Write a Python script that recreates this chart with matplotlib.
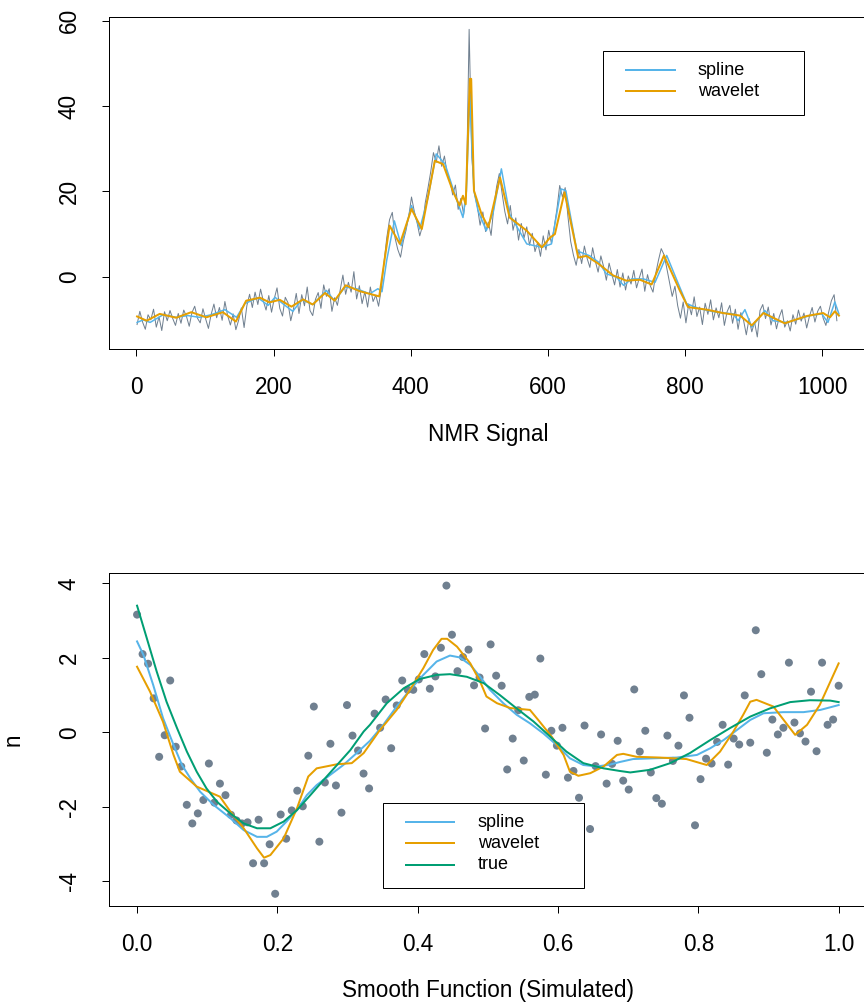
import matplotlib
matplotlib.use("Agg")
import matplotlib.pyplot as plt
import numpy as np
from matplotlib.lines import Line2D
from matplotlib.patches import Rectangle

plt.rcParams['font.family'] = ['Liberation Sans', 'DejaVu Sans']
plt.rcParams['axes.unicode_minus'] = False

GREY = '#708090'
BLUE = '#56B4E9'
ORANGE = '#E69F00'
GREEN = '#009E73'

# ---- NMR signal (read every 4th sample) ----
nmr_x = np.arange(1, 1025, 4)
nmr_raw = [
    -11.2, -8.1, -10.6, -12.3, -8.9, -10.1, -7.6, -11.8, -9.4, -12.6, -8.2, -10.3, -7.9, -9.8, -11.4, -8.6,
    -10.9, -7.8, -9.3, -11.6, -8.4, -6.9, -9.7, -10.8, -7.5, -9.9, -12.1, -8.8, -6.4, -9.6, -7.2, -10.2,
    -5.8, -9.1, -11.3, -8.7, -12.4, -10.2, -7.3, -11.9, -6.8, -4.1, -7.2, -3.6, -6.5, -2.9, -5.7, -7.8,
    -4.4, -8.3, -5.1, -2.6, -7.4, -9.2, -4.8, -6.1, -10.3, -7.5, -3.9, -8.6, -4.2, -6.8, -2.4, -7.9,
    -9.1, -5.3, -3.7, -7.4, -1.9, -4.6, -2.8, -8.1, -4.9, -6.7, -3.2, 0.4, -4.1, -1.3, -3.6, 1.2,
    -5.2, -2.1, -6.3, -3.5, -7.1, -2.4, -5.8, -4.3, -6.9, -2.8, 3.5, 9.2, 13.4, 15.1, 9.1, 6.4,
    4.6, 8.3, 10.9, 14.2, 18.7, 15.4, 12.8, 9.6, 11.9, 17.3, 20.8, 24.6, 29.1, 26.8, 30.7, 25.9,
    28.3, 24.1, 22.7, 19.2, 21.5, 15.8, 18.4, 14.6, 19.7, 58.0, 27.9, 19.3, 16.4, 12.1, 15.2, 10.6,
    12.8, 9.7, 16.3, 21.1, 24.2, 19.6, 15.3, 12.4, 16.7, 10.9, 13.8, 8.6, 12.5, 9.1, 11.7, 7.4,
    10.2, 5.9, 8.1, 4.8, 9.6, 6.3, 10.9, 7.8, 11.6, 15.9, 21.4, 18.7, 20.9, 14.2, 8.3, 5.1,
    2.7, 6.4, 3.1, 7.2, 4.3, 2.2, 6.8, 3.6, 1.1, 4.9, 2.4, -0.8, 3.2, 0.6, -1.9, 1.7,
    -2.4, 0.9, -3.1, 0.2, -1.7, 1.5, -2.6, -0.3, 1.8, -3.4, 0.5, -2.1, -3.6, 0.8, 3.9, 6.6,
    5.2, 2.1, -1.3, -4.6, -2.2, -6.8, -9.7, -5.9, -10.8, -6.4, -8.9, -4.7, -9.3, -7.1, -11.2, -6.2,
    -8.8, -5.4, -10.1, -7.3, -9.6, -6.1, -11.4, -8.2, -6.7, -10.9, -7.6, -12.3, -8.4, -10.2, -13.6, -9.8,
    -12.9, -10.6, -14.1, -7.9, -6.5, -9.8, -7.1, -11.3, -8.6, -12.2, -9.4, -7.7, -11.8, -10.3, -12.7, -8.9,
    -11.1, -7.8, -10.4, -8.5, -12.0, -9.3, -7.2, -10.6, -8.1, -6.9, -9.7, -11.4, -8.3, -5.6, -4.2, -10.3,
]

spline_x = [1, 10, 20, 39, 58, 75, 92, 109, 129, 146, 158, 177, 192, 202, 215, 228, 241, 257,
            277, 289, 304, 321, 340, 352, 358, 365, 376, 386, 401, 413, 425, 437, 450, 464,
            476, 481, 486, 489, 492, 498, 510, 520, 532, 544, 569, 591, 605, 619, 626, 642,
            661, 674, 685, 700, 710, 722, 739, 756, 773, 786, 802, 821, 845, 870, 877, 887,
            897, 916, 928, 948, 982, 999, 1008, 1018, 1024]
spline_y = [-10.7, -10.1, -10.7, -8.9, -9.5, -9.1, -9.5, -8.9, -7.7, -9.5, -6.3, -4.9, -6.7, -4.8,
            -6.5, -8.1, -5.4, -6.5, -3.2, -5.7, -2.4, -2.8, -4.0, -2.8, -3.5, 4.0, 13.1, 7.3,
            16.7, 11.2, 18.5, 28.8, 26.4, 19.4, 13.9, 20.0, 42.9, 30.0, 20.2, 15.5, 10.8, 15.0,
            25.3, 14.7, 7.7, 6.9, 7.7, 20.6, 20.2, 6.1, 4.9, 3.4, 0.7, -0.1, -2.0, -0.5, -0.5,
            -1.3, 5.0, -0.1, -6.3, -7.5, -8.3, -8.7, -10.3, -7.7, -11.8, -7.9, -10.3, -10.7,
            -9.1, -8.7, -10.7, -5.9, -8.7]

wave_x = [1, 15, 34, 58, 80, 102, 126, 145, 160, 180, 194, 209, 226, 243, 257, 275, 289, 305,
          326, 340, 354, 369, 384, 401, 416, 435, 447, 462, 471, 476, 480, 486, 488, 492, 503,
          513, 530, 544, 569, 591, 603, 610, 624, 644, 656, 674, 695, 714, 734, 751, 769, 792,
          804, 831, 855, 880, 897, 914, 945, 977, 1001, 1011, 1018, 1024]
wave_y = [-9.3, -10.3, -8.7, -9.6, -8.3, -9.5, -8.3, -10.5, -5.6, -4.9, -6.0, -5.4, -7.0, -5.3,
          -6.5, -3.8, -5.6, -2.0, -3.4, -4.0, -4.6, 12.0, 7.7, 15.9, 11.2, 27.2, 26.4, 19.8,
          16.7, 19.0, 17.0, 46.4, 46.4, 20.2, 14.7, 11.6, 23.3, 13.9, 10.8, 6.9, 9.2, 10.0,
          19.8, 4.5, 4.9, 3.0, 0.3, -0.9, -0.7, -1.8, 5.0, -3.2, -7.1, -7.7, -8.5, -9.1, -11.4,
          -8.5, -10.9, -9.2, -8.5, -9.5, -8.1, -9.1]

# ---- simulated smooth function (n = 128) ----
sim_x = np.arange(128) / 127
sim_y = [
    3.16, 2.10, 1.84, 0.91, -0.66, -0.08, 1.39, -0.39, -0.92, -1.95, -2.45, -2.18, -1.82, -0.84, -1.89, -1.38,
    -1.69, -2.22, -2.37, -2.45, -2.42, -3.52, -2.35, -3.52, -3.01, -4.34, -2.21, -2.86, -2.10, -1.57, -1.99, -0.63,
    0.69, -2.94, -1.35, -0.31, -1.43, -2.16, 0.73, -0.09, -0.49, -1.11, -1.51, 0.50, 0.12, 0.88, -0.43, 0.72,
    1.39, 1.14, 1.14, 1.42, 2.10, 1.17, 1.50, 2.27, 3.94, 2.62, 1.64, 2.02, 2.22, 1.26, 1.47, 0.10,
    2.36, 1.52, 1.25, -1.00, -0.17, 0.59, -0.76, 0.95, 1.01, 1.98, -1.14, 0.04, -0.36, 0.12, -1.22, -1.04,
    -1.76, 0.18, -2.60, -0.91, -0.06, -1.38, -0.85, -0.23, -1.30, -1.54, 1.15, -0.52, 0.04, -1.08, -1.77, -1.92,
    -0.09, -0.77, -0.36, 0.99, 0.39, -2.50, -1.26, -0.71, -0.84, -0.26, 0.20, -0.87, -0.17, -0.33, 0.99, -0.28,
    2.74, 1.56, -0.55, 0.34, -0.06, 0.12, 1.87, 0.26, -0.03, -0.25, 1.09, -0.51, 1.87, 0.20, 0.34, 1.25,
]

true_x = [0, .0138, .028, .042, .057, .071, .085, .099, .114, .133, .152, .171, .190, .209, .228,
          .247, .266, .285, .304, .323, .332, .356, .380, .403, .427, .446, .470, .494, .517, .541,
          .565, .589, .612, .636, .665, .688, .703, .731, .760, .788, .817, .845, .874, .902, .931,
          .959, .988, 1.0]
true_y = [3.40, 2.53, 1.63, 0.82, 0.11, -0.52, -1.06, -1.51, -1.87, -2.18, -2.45, -2.58, -2.58,
          -2.40, -2.09, -1.69, -1.28, -0.88, -0.48, 0.02, 0.20, 0.78, 1.18, 1.43, 1.54, 1.56, 1.49,
          1.32, 1.00, 0.64, 0.29, -0.12, -0.52, -0.83, -0.97, -1.04, -1.08, -1.01, -0.83, -0.56,
          -0.21, 0.11, 0.42, 0.64, 0.81, 0.86, 0.85, 0.81]

sp2_x = [0, .009, .023, .037, .052, .064, .076, .090, .109, .133, .152, .171, .185, .199, .213,
         .228, .242, .256, .275, .294, .313, .332, .351, .370, .389, .408, .427, .446, .460, .475,
         .489, .503, .522, .541, .560, .579, .598, .617, .636, .655, .674, .688, .707, .736, .769,
         .798, .817, .836, .855, .874, .893, .921, .950, .974, 1.0]
sp2_y = [2.44, 2.08, 1.27, 0.38, -0.34, -0.88, -1.24, -1.60, -1.95, -2.31, -2.63, -2.81, -2.81,
         -2.67, -2.40, -2.09, -1.69, -1.42, -1.15, -0.88, -0.56, -0.23, 0.20, 0.69, 1.14, 1.54,
         1.90, 2.06, 2.01, 1.81, 1.49, 1.14, 0.78, 0.47, 0.24, -0.03, -0.34, -0.70, -0.88, -0.92,
         -0.87, -0.80, -0.72, -0.70, -0.68, -0.61, -0.43, -0.21, 0.06, 0.33, 0.51, 0.54, 0.54,
         0.60, 0.73]

wv2_x = [0, .0185, .037, .052, .061, .085, .118, .133, .152, .171, .181, .190, .209, .228, .244,
         .256, .285, .306, .323, .345, .370, .389, .408, .422, .434, .442, .456, .475, .489, .498,
         .513, .532, .560, .574, .591, .608, .617, .629, .646, .665, .684, .693, .712, .745, .783,
         .812, .831, .850, .864, .874, .883, .907, .938, .955, .973, 1.0]
wv2_y = [1.76, 1.09, 0.28, -0.61, -1.06, -1.46, -1.73, -2.13, -2.58, -3.12, -3.37, -3.30, -2.85,
         -2.04, -1.19, -0.97, -0.86, -0.83, -0.56, 0.03, 0.60, 1.14, 1.72, 2.21, 2.51, 2.51, 2.30,
         1.85, 1.36, 0.96, 0.78, 0.65, 0.60, 0.28, -0.12, -0.61, -1.06, -1.17, -1.10, -0.92,
         -0.61, -0.58, -0.66, -0.68, -0.72, -0.88, -0.52, 0.02, 0.47, 0.82, 0.87, 0.69, -0.07,
         0.20, 0.73, 1.85]

W, H = 864, 1008
FS = 22.5
fig = plt.figure(figsize=(W / 72, H / 72), dpi=72)


def style_axes(ax):
    for s in ax.spines.values():
        s.set_linewidth(1)
        s.set_color('black')
    ax.tick_params(direction='out', length=7, width=1, labelsize=FS)
    ax.tick_params(axis='x', pad=20)
    ax.tick_params(axis='y', pad=21)
    for lab in ax.get_yticklabels():
        lab.set_rotation(90)
        lab.set_va('center')


def legend_box(box, rows):
    x0, y0, x1, y1 = box
    fig.add_artist(Rectangle((x0 / W, 1 - y1 / H), (x1 - x0) / W, (y1 - y0) / H,
                             transform=fig.transFigure, fill=False, ec='black', lw=1))
    for lx0, lx1, tx, y, col, lab in rows:
        fig.add_artist(Line2D([lx0 / W, lx1 / W], [1 - y / H, 1 - y / H],
                              transform=fig.transFigure, color=col, lw=2))
        fig.text(tx / W, 1 - y / H, lab, ha='left', va='center', fontsize=18)


# top panel
ax1 = fig.add_axes([109 / W, 1 - 349.3 / H, 758 / W, 332.3 / H])
ax1.plot(nmr_x, nmr_raw, color=GREY, lw=1)
ax1.plot(spline_x, spline_y, color=BLUE, lw=1.5)
ax1.plot(wave_x, wave_y, color=ORANGE, lw=2)
ax1.set_xlim(-39.92, 1064.92)
ax1.set_ylim(-17.0, 60.9)
ax1.set_xticks([0, 200, 400, 600, 800, 1000])
ax1.set_yticks([0, 20, 40, 60])
ax1.set_xlabel('NMR Signal', fontsize=FS, labelpad=24)
style_axes(ax1)
legend_box((602.7, 50.7, 804, 115.3),
           [(626, 675, 698, 70.3, BLUE, 'spline'),
            (626, 675, 698, 91.0, ORANGE, 'wavelet')])

# bottom panel
ax2 = fig.add_axes([109 / W, 1 - 905.7 / H, 757.7 / W, 332.4 / H])
ax2.scatter(sim_x, sim_y, s=64, color=GREY, edgecolors='none', zorder=1)
ax2.plot(sp2_x, sp2_y, color=BLUE, lw=2, zorder=2)
ax2.plot(wv2_x, wv2_y, color=ORANGE, lw=2, zorder=2)
ax2.plot(true_x, true_y, color=GREEN, lw=2, zorder=2)
ax2.set_xlim(-0.04, 1.04)
ax2.set_ylim(-4.66, 4.27)
ax2.set_xticks([0.0, 0.2, 0.4, 0.6, 0.8, 1.0])
ax2.set_xticklabels(['0.0', '0.2', '0.4', '0.6', '0.8', '1.0'])
ax2.set_yticks([-4, -2, 0, 2, 4])
ax2.set_yticklabels(['-4', '-2', '0', '2', '4'])
ax2.set_xlabel('Smooth Function (Simulated)', fontsize=FS, labelpad=23)
ax2.set_ylabel('n', fontsize=FS, labelpad=33)
style_axes(ax2)
legend_box((382.7, 802.7, 584.3, 888.3),
           [(406, 454, 477.7, 822.3, BLUE, 'spline'),
            (406, 454, 477.7, 843.3, ORANGE, 'wavelet'),
            (406, 454, 477.7, 864.7, GREEN, 'true')])

fig.savefig('out.png', dpi=72)
